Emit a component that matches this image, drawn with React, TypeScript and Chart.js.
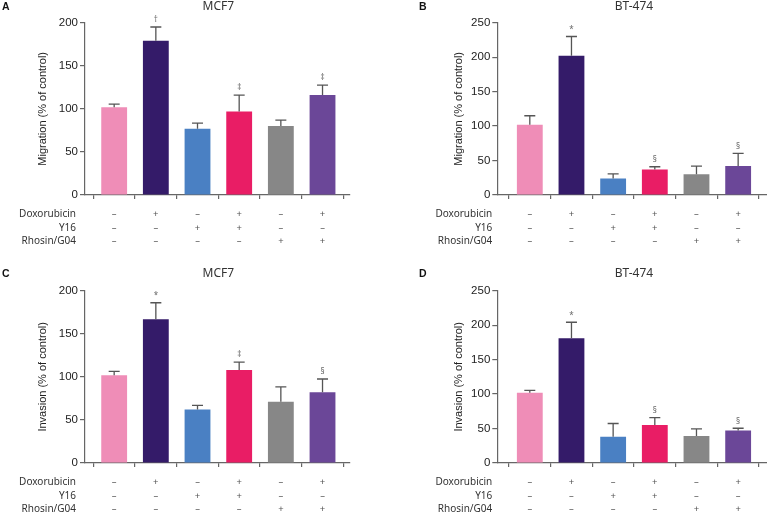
import React, { useEffect, useRef } from "react";
import { Chart, registerables } from "chart.js";

Chart.register(...registerables);

// ---------- data ----------
const groups = ["Control", "Dox", "Y16", "Dox + Y16", "Rhosin/G04", "Dox + Rhosin/G04"];
const rowNames = ["Doxorubicin", "Y16", "Rhosin/G04"];
const doxSigns = ["–", "+", "–", "+", "–", "+"];
const y16Signs = ["–", "–", "+", "+", "–", "–"];
const rhosinSigns = ["–", "–", "–", "–", "+", "+"];
const barColors = ["#EF8DB7", "#341B69", "#4A80C3", "#E91D65", "#878787", "#6B4798"];

const migMCF7 = [102, 179, 77, 97, 80, 116];
const migMCF7Err = [3.5, 16, 6.5, 19, 7, 11.5];
const migMCF7Marks = ["", "†", "", "‡", "", "‡"];

const migBT474 = [102, 202, 24, 37, 30, 42];
const migBT474Err = [13, 28, 6.7, 4, 12, 18.3];
const migBT474Marks = ["", "*", "", "§", "", "§"];

const invMCF7 = [102, 167, 62, 108, 71, 82];
const invMCF7Err = [4.3, 19, 5, 9, 17.4, 15.5];
const invMCF7Marks = ["", "*", "", "‡", "", "§"];

const invBT474 = [102, 181, 38, 55, 39, 47];
const invBT474Err = [3.4, 23.2, 19.3, 10.7, 10.6, 3.4];
const invBT474Marks = ["", "*", "", "§", "", "§"];

const yTicksMCF7 = { max: 200, step: 50 };
const yTicksBT474 = { max: 250, step: 50 };

// ---------- layout constants ----------
const TICK_LEN_X = 4;
const TICK_PAD_X = 8.4;
const ROW_LH = 13.7;

type PanelProps = {
  letter: string;
  title: string;
  yTitle: string;
  values: number[];
  errors: number[];
  marks: string[];
  yMax: number;
  yStep: number;
  left: number;
  top: number;
  width: number;
  height: number;
  padLeft: number;
  axisX: number;
  chartTop: number;
  chartBottom: number;
  xMin: number;
  xMax: number;
  letterX: number;
  letterY: number;
  titleY: number;
  rowX: number;
};

function Panel(p: PanelProps) {
  const ref = useRef<HTMLCanvasElement | null>(null);
  useEffect(() => {
    if (!ref.current) return;
    const overlay = {
      id: "overlay",
      afterDatasetsDraw(chart: any) {
        const ctx = chart.ctx;
        const meta = chart.getDatasetMeta(0);
        const ys = chart.scales.y;
        ctx.save();
        ctx.strokeStyle = "#555";
        ctx.lineWidth = 1.3;
        meta.data.forEach((bar: any, i: number) => {
          const x = bar.x;
          const y0 = ys.getPixelForValue(p.values[i]);
          const y1 = ys.getPixelForValue(p.values[i] + p.errors[i]);
          ctx.beginPath();
          ctx.moveTo(x, y0);
          ctx.lineTo(x, y1);
          ctx.moveTo(x - 5.5, y1);
          ctx.lineTo(x + 5.5, y1);
          ctx.stroke();
          if (p.marks[i]) {
            ctx.fillStyle = "#666";
            ctx.font = '8px "Noto Sans"';
            ctx.textAlign = "center";
            ctx.textBaseline = "middle";
            ctx.fillText(p.marks[i], x, y1 - 7);
          }
        });
        ctx.restore();
      },
      afterDraw(chart: any) {
        const ctx = chart.ctx;
        const xs = chart.scales.x;
        const area = chart.chartArea;
        ctx.save();
        // panel letter
        ctx.fillStyle = "#111";
        ctx.font = 'bold 10.5px "Liberation Sans"';
        ctx.textAlign = "left";
        ctx.textBaseline = "middle";
        ctx.fillText(p.letter, p.letterX, p.letterY);
        // title
        const cx = (xs.getPixelForValue(0) + xs.getPixelForValue(groups.length - 1)) / 2;
        ctx.fillStyle = "#333";
        ctx.font = '12px "Noto Sans"';
        ctx.textAlign = "center";
        ctx.fillText(p.title, cx, p.titleY);
        // row headers
        ctx.font = '10px "Noto Sans"';
        ctx.textAlign = "right";
        ctx.fillStyle = "#333";
        rowNames.forEach((name, j) => {
          const y = area.bottom + TICK_LEN_X + TICK_PAD_X + ROW_LH / 2 + j * ROW_LH;
          ctx.fillText(name, p.rowX, y);
        });
        ctx.restore();
      },
    };

    const chart = new Chart(ref.current, {
      type: "bar",
      data: {
        labels: groups,
        datasets: [
          {
            data: p.values.map((v, i) => ({ x: i, y: v })) as any,
            backgroundColor: barColors,
            borderWidth: 0,
            categoryPercentage: 1,
            barPercentage: 0.62,
          },
        ],
      },
      options: {
        responsive: false,
        animation: false,
        devicePixelRatio: 1,
        layout: {
          padding: {
            left: p.padLeft,
            top: p.chartTop,
            right: p.width - (p.axisX + (p.xMax - p.xMin) * 41.67),
            bottom: 0,
          },
        },
        plugins: {
          legend: { display: false },
          tooltip: { enabled: false },
          title: { display: false },
        },
        scales: {
          x: {
            type: "linear",
            min: p.xMin,
            max: p.xMax,
            offset: false,
            afterBuildTicks: (s: any) => {
              s.ticks = groups.map((_, i) => ({ value: i }));
            },
            afterFit: (s: any) => {
              s.height = p.height - p.chartBottom;
            },
            grid: {
              display: true,
              drawOnChartArea: false,
              drawTicks: true,
              tickLength: TICK_LEN_X,
              color: "#666",
              lineWidth: 1.2,
            },
            border: { display: true, color: "#666", width: 1.2 },
            ticks: {
              autoSkip: false,
              maxRotation: 0,
              minRotation: 0,
              padding: TICK_PAD_X,
              color: "#555",
              font: { family: '"Noto Sans"', size: 9.5, lineHeight: ROW_LH / 9.5 },
              callback: (value: any) => {
                const i = Math.round(Number(value));
                return [doxSigns[i], y16Signs[i], rhosinSigns[i]];
              },
            },
          },
          y: {
            min: 0,
            max: p.yMax,
            afterFit: (s: any) => {
              s.width = p.axisX - p.padLeft;
            },
            grid: {
              display: true,
              drawOnChartArea: false,
              drawTicks: true,
              tickLength: 5,
              color: "#666",
              lineWidth: 1.2,
            },
            border: { display: true, color: "#666", width: 1.2 },
            ticks: {
              stepSize: p.yStep,
              padding: 2,
              color: "#222",
              font: { family: '"Liberation Sans"', size: 11.5 },
            },
            title: {
              display: true,
              text: p.yTitle,
              color: "#222",
              font: { family: '"Liberation Sans"', size: 11, lineHeight: 1.2 },
              padding: { top: 0, bottom: 0 },
            },
          },
        },
      },
      plugins: [overlay],
    });
    return () => chart.destroy();
  }, []);

  return (
    <div style={{ position: "absolute", left: p.left, top: p.top, width: p.width, height: p.height }}>
      <canvas ref={ref} width={p.width} height={p.height} style={{ width: p.width, height: p.height, display: "block" }} />
    </div>
  );
}

export default function App() {
  return (
    <div style={{ position: "absolute", left: 0, top: 0, width: 767, height: 517, background: "#fff", overflow: "hidden" }}>
      <Panel
        letter="A"
        title="MCF7"
        yTitle="Migration (% of control)"
        values={migMCF7}
        errors={migMCF7Err}
        marks={migMCF7Marks}
        yMax={yTicksMCF7.max}
        yStep={yTicksMCF7.step}
        left={0}
        top={0}
        width={384}
        height={258}
        padLeft={36.4}
        axisX={85}
        chartTop={22.7}
        chartBottom={195}
        xMin={-0.7}
        xMax={5.65}
        letterX={2}
        letterY={7}
        titleY={7}
        rowX={76}
      />
      <Panel
        letter="B"
        title="BT-474"
        yTitle="Migration (% of control)"
        values={migBT474}
        errors={migBT474Err}
        marks={migBT474Marks}
        yMax={yTicksBT474.max}
        yStep={yTicksBT474.step}
        left={384}
        top={0}
        width={383}
        height={258}
        padLeft={68.4}
        axisX={113.3}
        chartTop={22.7}
        chartBottom={195}
        xMin={-0.78}
        xMax={5.69}
        letterX={35}
        letterY={7}
        titleY={7}
        rowX={108.3}
      />
      <Panel
        letter="C"
        title="MCF7"
        yTitle="Invasion (% of control)"
        values={invMCF7}
        errors={invMCF7Err}
        marks={invMCF7Marks}
        yMax={yTicksMCF7.max}
        yStep={yTicksMCF7.step}
        left={0}
        top={258}
        width={384}
        height={259}
        padLeft={36.4}
        axisX={85}
        chartTop={32.7}
        chartBottom={205}
        xMin={-0.7}
        xMax={5.65}
        letterX={2}
        letterY={16}
        titleY={16}
        rowX={76}
      />
      <Panel
        letter="D"
        title="BT-474"
        yTitle="Invasion (% of control)"
        values={invBT474}
        errors={invBT474Err}
        marks={invBT474Marks}
        yMax={yTicksBT474.max}
        yStep={yTicksBT474.step}
        left={384}
        top={258}
        width={383}
        height={259}
        padLeft={68.4}
        axisX={113.3}
        chartTop={32.7}
        chartBottom={205}
        xMin={-0.78}
        xMax={5.69}
        letterX={35}
        letterY={16}
        titleY={16}
        rowX={108.3}
      />
    </div>
  );
}
